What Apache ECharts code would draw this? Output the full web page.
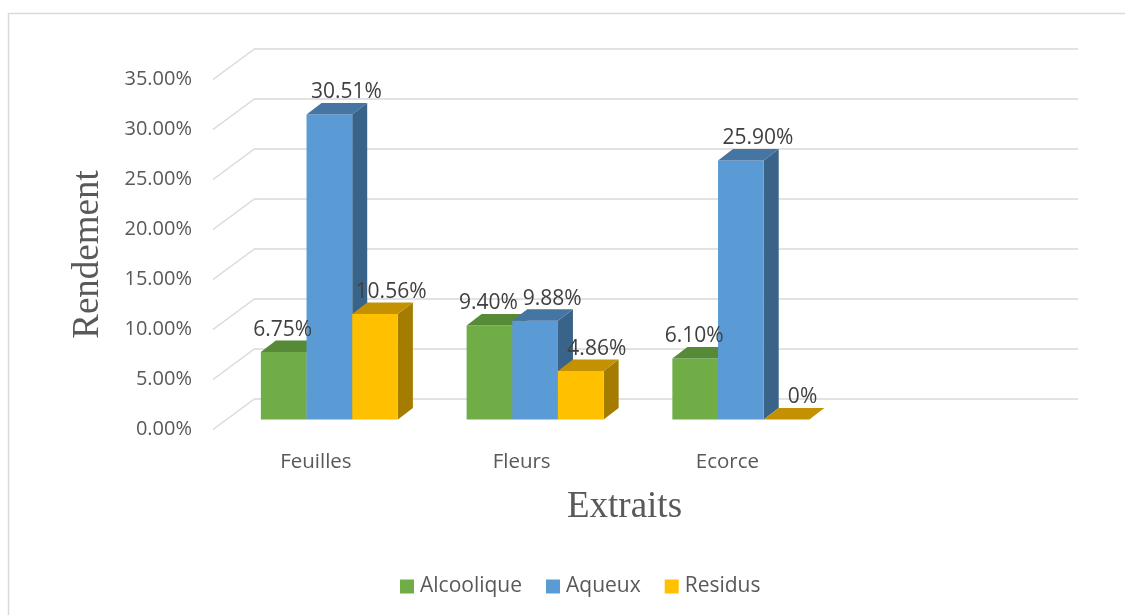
<!DOCTYPE html>
<html><head><meta charset="utf-8">
<script src="https://cdn.jsdelivr.net/npm/echarts@6/dist/echarts.min.js"></script>
<style>html,body{margin:0;padding:0;background:#fff}#c{width:1125px;height:615px}</style>
</head><body><div id="c"></div><script>
// ---- data ----
const categories = ['Feuilles', 'Fleurs', 'Ecorce', ''];
const seriesNames = ['Alcoolique', 'Aqueux', 'Residus'];
const alcoolique = [6.75, 9.40, 6.10];
const aqueux = [30.51, 9.88, 25.90];
const residus = [10.56, 4.86, 0];
const yTicks = [0, 5, 10, 15, 20, 25, 30, 35];

// ---- styles ----
const faceColors = [
  { front: '#70AD47', top: '#578A37', side: '#4E7A31' },
  { front: '#5B9BD5', top: '#4475A3', side: '#396388' },
  { front: '#FFC000', top: '#C49102', side: '#A37C00' }
];
const labelDx = [-1, 17, 16];
const DEPTH_X = 42, DEPTH_Y = -31;      // wall depth
const BAR_SHIFT_X = 13.5, BAR_SHIFT_Y = -10; // bar front plane offset
const BAR_DX = 15, BAR_DY = -11.5;       // bar depth
const SANS = '"Open Sans", "Liberation Sans", sans-serif';
const SERIF = '"Liberation Serif", "Times New Roman", serif';

function fmt(v) { return v === 0 ? '0%' : v.toFixed(2) + '%'; }

function makeBarRender(s) {
  const c = faceColors[s];
  return function (params, api) {
    const cat = api.value(0), val = api.value(1);
    const top = api.coord([cat, val]);
    const base = api.coord([cat, 0]);
    const band = api.size([1, 0])[0];
    const bw = band * 0.222;
    const x0 = top[0] - 1.5 * bw + s * bw + BAR_SHIFT_X;
    const yt = top[1] + BAR_SHIFT_Y, yb = base[1] + BAR_SHIFT_Y;
    const x1 = x0 + bw;
    return {
      type: 'group',
      children: [
        { type: 'polygon', shape: { points: [[x1, yt], [x1 + BAR_DX, yt + BAR_DY], [x1 + BAR_DX, yb + BAR_DY], [x1, yb]] },
          style: { fill: c.side } },
        { type: 'rect', shape: { x: x0, y: yt, width: bw, height: yb - yt },
          style: { fill: c.front } },
        { type: 'polygon', shape: { points: [[x0, yt], [x1, yt], [x1 + BAR_DX, yt + BAR_DY], [x0 + BAR_DX, yt + BAR_DY]] },
          style: { fill: c.top } },
        { type: 'text', x: x0 + bw / 2 + labelDx[s], y: yt - 22, z2: 50,
          style: { text: fmt(val), fill: '#404040', fontSize: 21, fontFamily: SANS, align: 'center', verticalAlign: 'middle' } }
      ]
    };
  };
}

const seriesData = [alcoolique, aqueux, residus];

const chart = echarts.init(document.getElementById('c'), null, { renderer: 'canvas' });
const option = {
  animation: false,
  backgroundColor: '#fff',
  grid: [
    { left: 213, top: 79.5, width: 823, height: 350 },
    { left: 213 + DEPTH_X, top: 79.5 + DEPTH_Y, width: 823, height: 350 }
  ],
  xAxis: [
    { gridIndex: 0, type: 'category', data: categories,
      axisLine: { show: false }, axisTick: { show: false },
      axisLabel: { color: '#595959', fontSize: 20.5, fontFamily: SANS, margin: 22 },
      name: 'Extraits', nameLocation: 'middle', nameGap: 59,
      nameTextStyle: { fontFamily: SERIF, fontSize: 37, color: '#595959' } },
    { gridIndex: 1, type: 'category', data: categories, show: false }
  ],
  yAxis: [
    { gridIndex: 0, type: 'value', min: 0, max: 35, interval: 5,
      axisLine: { show: false }, axisTick: { show: false }, splitLine: { show: false },
      axisLabel: { color: '#595959', fontSize: 20, fontFamily: SANS, margin: 21, formatter: v => v.toFixed(2) + '%' },
      name: 'Rendement', nameLocation: 'middle', nameGap: 106, nameRotate: 90,
      nameTextStyle: { fontFamily: SERIF, fontSize: 37, color: '#595959' } },
    { gridIndex: 1, type: 'value', min: 0, max: 35, interval: 5,
      axisLine: { show: false }, axisTick: { show: false }, axisLabel: { show: false },
      splitLine: { lineStyle: { color: '#D9D9D9', width: 1.5 } } }
  ],
  legend: {
    data: seriesNames, left: 400, top: 576, padding: 0,
    icon: 'rect', itemWidth: 14, itemHeight: 14, itemGap: 24,
    textStyle: { color: '#595959', fontSize: 21, fontFamily: SANS, padding: [0, 0, 0, 1] }
  },
  graphic: [
    { type: 'rect', silent: true, z: -10,
      shape: { x: 8.5, y: 13.5, width: 1130, height: 620 },
      style: { fill: null, stroke: '#D9D9D9', lineWidth: 1.5 } }
  ],
  series: [
    { type: 'custom', name: '_walls', xAxisIndex: 0, yAxisIndex: 0, silent: true, z: 1,
      data: yTicks.map(v => [0, v]),
      renderItem: function (params, api) {
        const cs = params.coordSys;
        const y = api.coord([0, api.value(1)])[1];
        return { type: 'line', shape: { x1: cs.x, y1: y, x2: cs.x + DEPTH_X, y2: y + DEPTH_Y },
                 style: { stroke: '#D9D9D9', lineWidth: 1.5 } };
      } }
  ].concat(seriesNames.map((name, s) => ({
    type: 'custom', name: name, xAxisIndex: 0, yAxisIndex: 0, z: 2,
    itemStyle: { color: faceColors[s].front },
    data: seriesData[s].map((v, i) => [i, v]),
    renderItem: makeBarRender(s)
  })))
};
chart.setOption(option);
</script></body></html>
